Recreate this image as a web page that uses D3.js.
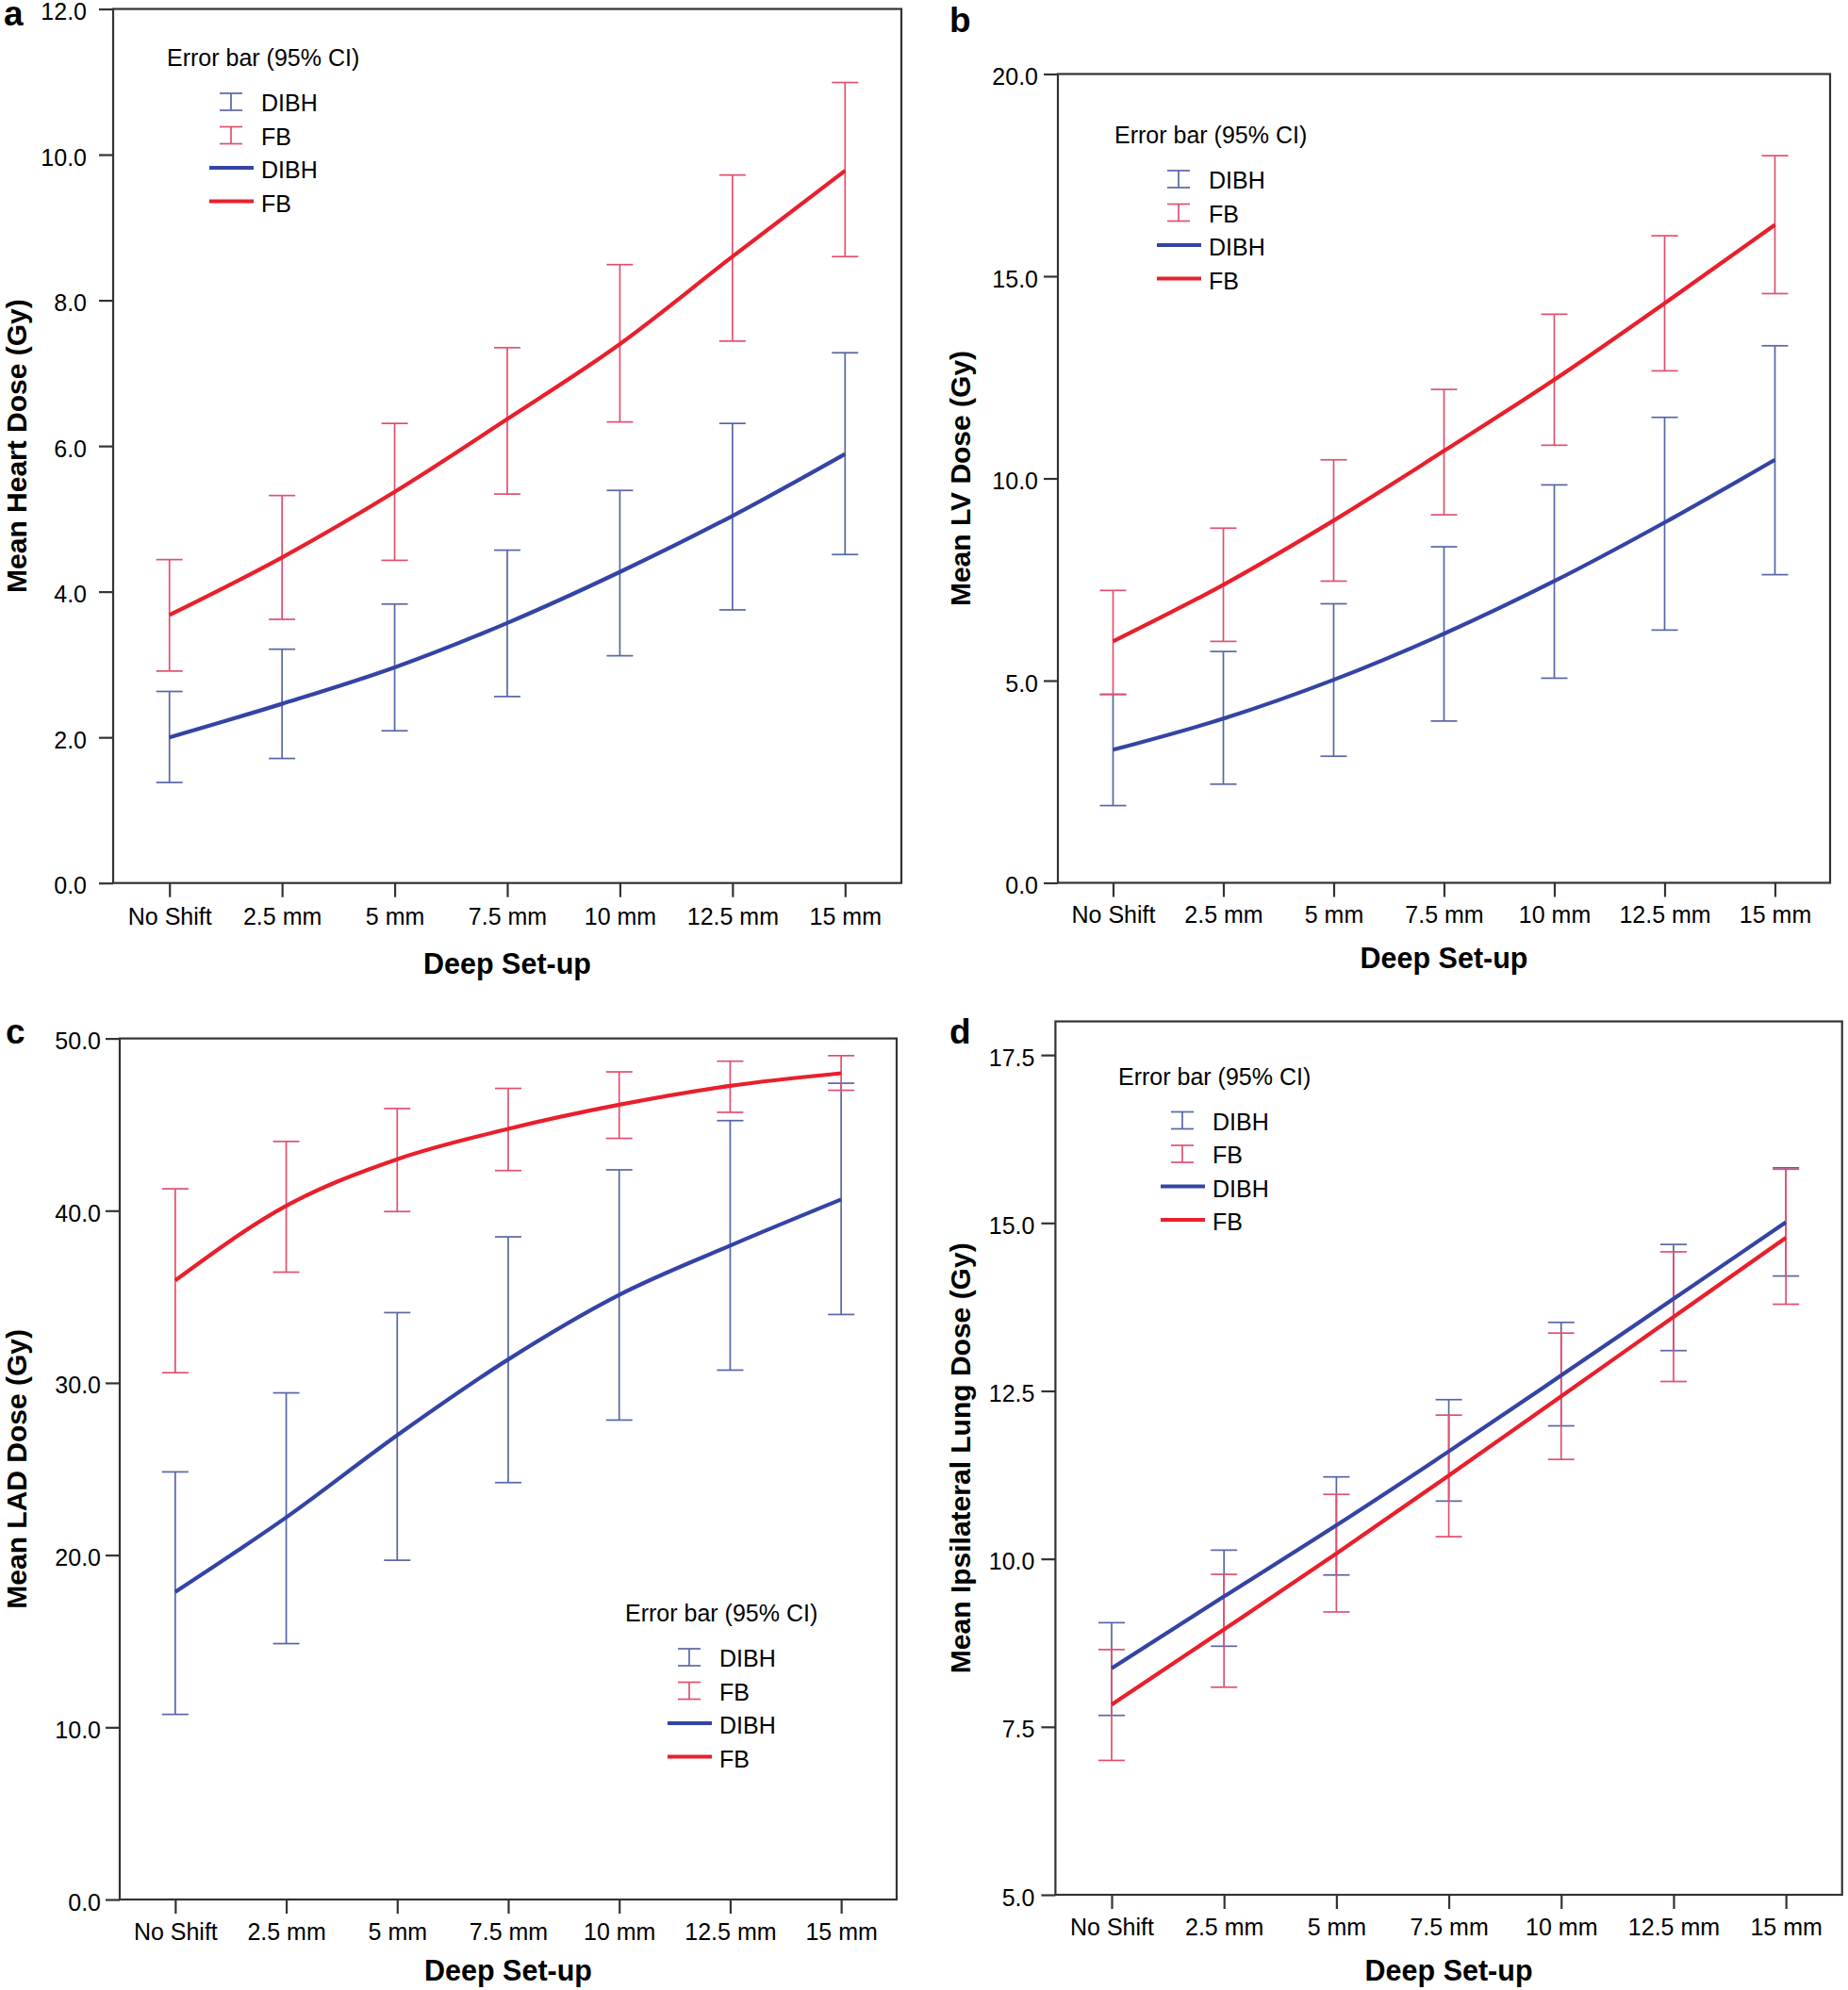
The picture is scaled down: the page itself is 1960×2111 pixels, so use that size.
<!DOCTYPE html>
<html>
<head>
<meta charset="utf-8">
<script src="https://cdn.jsdelivr.net/npm/d3@7"></script>
<style>
  html, body { margin: 0; padding: 0; background: #fff; }
  svg { display: block; }
  text { font-family: "Liberation Sans", Arial, Helvetica, sans-serif; fill: #000; }
</style>
</head>
<body>
<svg id="chart" width="1960" height="2111"></svg>
<script>
// ---------------- DATA ----------------
const categories = ["No Shift", "2.5 mm", "5 mm", "7.5 mm", "10 mm", "12.5 mm", "15 mm"];

// Panel a: Mean Heart Dose (Gy)
const heartDIBH   = [2.00, 2.46, 2.96, 3.57, 4.27, 5.04, 5.89];
const heartDIBHLo = [1.38, 1.71, 2.09, 2.56, 3.12, 3.75, 4.51];
const heartDIBHHi = [2.63, 3.21, 3.83, 4.57, 5.39, 6.31, 7.28];
const heartFB     = [3.68, 4.47, 5.37, 6.37, 7.40, 8.60, 9.78];
const heartFBLo   = [2.91, 3.62, 4.43, 5.34, 6.33, 7.44, 8.60];
const heartFBHi   = [4.44, 5.32, 6.31, 7.35, 8.49, 9.72, 10.99];
const heartTicks  = [0, 2, 4, 6, 8, 10, 12];

// Panel b: Mean LV Dose (Gy)
const lvDIBH   = [3.29, 4.06, 5.02, 6.16, 7.46, 8.91, 10.46];
const lvDIBHLo = [1.91, 2.44, 3.13, 4.00, 5.06, 6.25, 7.62];
const lvDIBHHi = [4.66, 5.72, 6.90, 8.31, 9.84, 11.51, 13.28];
const lvFB     = [5.97, 7.37, 8.96, 10.68, 12.44, 14.33, 16.27];
const lvFBLo   = [4.66, 5.97, 7.46, 9.10, 10.82, 12.66, 14.57];
const lvFBHi   = [7.23, 8.77, 10.46, 12.20, 14.06, 16.00, 17.98];
const lvTicks  = [0, 5, 10, 15, 20];

// Panel c: Mean LAD Dose (Gy)
const ladDIBH   = [17.86, 22.19, 26.96, 31.36, 35.11, 37.97, 40.65];
const ladDIBHLo = [10.75, 14.86, 19.70, 24.21, 27.84, 30.74, 33.97];
const ladDIBHHi = [24.83, 29.42, 34.08, 38.48, 42.37, 45.23, 47.40];
const ladFB     = [35.95, 40.28, 42.99, 44.75, 46.15, 47.25, 47.98];
const ladFBLo   = [30.59, 36.43, 39.95, 42.33, 44.20, 45.71, 46.99];
const ladFBHi   = [41.27, 44.02, 45.93, 47.10, 48.06, 48.68, 49.00];
const ladTicks  = [0, 10, 20, 30, 40, 50];

// Panel d: Mean Ipsilateral Lung Dose (Gy)
const lungDIBH   = [8.37, 9.44, 10.50, 11.60, 12.73, 13.87, 15.01];
const lungDIBHLo = [7.67, 8.70, 9.76, 10.86, 11.98, 13.10, 14.21];
const lungDIBHHi = [9.05, 10.13, 11.22, 12.37, 13.52, 14.68, 15.82];
const lungFB     = [7.83, 8.95, 10.08, 11.24, 12.42, 13.60, 14.78];
const lungFBLo   = [7.00, 8.09, 9.21, 10.33, 11.48, 12.64, 13.79];
const lungFBHi   = [8.65, 9.77, 10.96, 12.14, 13.36, 14.57, 15.80];
const lungTicks  = [5, 7.5, 10, 12.5, 15, 17.5];

const seriesNames = ["DIBH", "FB"];
const legendTitle = "Error bar (95% CI)";
const xTitle = "Deep Set-up";

// ---------------- STYLE ----------------
const lineColor = { DIBH: "#3444a4", FB: "#e8202c" };
const barColor  = { DIBH: "#5866a6", FB: "#e0506e" };
const frameColor = "#333";

// ---------------- PANELS ----------------
const panels = [
  { letter: "a", yTitle: "Mean Heart Dose (Gy)", domain: [0, 12], ticks: heartTicks,
    dibh: [heartDIBH, heartDIBHLo, heartDIBHHi], fb: [heartFB, heartFBLo, heartFBHi],
    box: { l: 120, t: 9.5, r: 956, b: 936.7 }, tickPad: 13, xPad: 12,
    letterPos: [4, 27], yTitleX: 28, xTitleY: 1033, legend: [177, 70] },
  { letter: "b", yTitle: "Mean LV Dose (Gy)", domain: [0, 20], ticks: lvTicks,
    dibh: [lvDIBH, lvDIBHLo, lvDIBHHi], fb: [lvFB, lvFBLo, lvFBHi],
    box: { l: 1122, t: 78.5, r: 1941, b: 936.5 }, tickPad: 6, xPad: 10,
    letterPos: [1007, 34], yTitleX: 1029, xTitleY: 1027, legend: [1182, 152] },
  { letter: "c", yTitle: "Mean LAD Dose (Gy)", domain: [0, 50], ticks: ladTicks,
    dibh: [ladDIBH, ladDIBHLo, ladDIBHHi], fb: [ladFB, ladFBLo, ladFBHi],
    box: { l: 127, t: 1101.6, r: 951, b: 2015 }, tickPad: 5, xPad: 10,
    letterPos: [6, 1107], yTitleX: 28, xTitleY: 2101, legend: [663, 1720] },
  { letter: "d", yTitle: "Mean Ipsilateral Lung Dose (Gy)", domain: [5, 18], ticks: lungTicks,
    dibh: [lungDIBH, lungDIBHLo, lungDIBHHi], fb: [lungFB, lungFBLo, lungFBHi],
    box: { l: 1119.4, t: 1083.5, r: 1953.75, b: 2010 }, tickPad: 7, xPad: 10,
    letterPos: [1007, 1107], yTitleX: 1029, xTitleY: 2101, legend: [1186, 1150.5] }
];

const svg = d3.select("#chart");
svg.append("rect").attr("width", 1960).attr("height", 2111).attr("fill", "#fff");

panels.forEach(p => {
  const g = svg.append("g");
  const { l, t, r, b } = p.box;
  const x = d3.scalePoint().domain(categories).range([l, r]).padding(0.5);
  const y = d3.scaleLinear().domain(p.domain).range([b, t]);

  // frame
  g.append("rect").attr("x", l).attr("y", t).attr("width", r - l).attr("height", b - t)
    .attr("fill", "none").attr("stroke", frameColor).attr("stroke-width", 2.2);

  // y axis
  const ya = g.append("g").attr("transform", `translate(${l},0)`)
    .call(d3.axisLeft(y).tickValues(p.ticks).tickSize(15).tickPadding(p.tickPad).tickFormat(d3.format(".1f")));
  ya.select(".domain").remove();
  ya.selectAll(".tick line").attr("stroke", frameColor).attr("stroke-width", 2.2);
  ya.selectAll(".tick text").attr("font-size", 25).attr("fill", "#000").attr("y", 3)
    .attr("font-family", '"Liberation Sans", Arial, sans-serif');

  // x axis
  const xa = g.append("g").attr("transform", `translate(0,${b})`)
    .call(d3.axisBottom(x).tickSize(15).tickPadding(p.xPad));
  xa.select(".domain").remove();
  xa.selectAll(".tick line").attr("stroke", frameColor).attr("stroke-width", 2.2);
  xa.selectAll(".tick text").attr("font-size", 25).attr("fill", "#000")
    .attr("font-family", '"Liberation Sans", Arial, sans-serif');

  // error bars
  const cap = 14;
  [["DIBH", p.dibh], ["FB", p.fb]].forEach(([name, arr]) => {
    const [mean, lo, hi] = arr;
    const eb = g.append("g").attr("stroke", barColor[name]).attr("stroke-width", 1.7).attr("fill", "none");
    categories.forEach((c, i) => {
      const cx = x(c);
      eb.append("line").attr("x1", cx).attr("x2", cx).attr("y1", y(lo[i])).attr("y2", y(hi[i]));
      eb.append("line").attr("x1", cx - cap).attr("x2", cx + cap).attr("y1", y(lo[i])).attr("y2", y(lo[i]));
      eb.append("line").attr("x1", cx - cap).attr("x2", cx + cap).attr("y1", y(hi[i])).attr("y2", y(hi[i]));
    });
  });

  // mean lines
  const line = d3.line().x((d, i) => x(categories[i])).y(d => y(d)).curve(d3.curveMonotoneX);
  [["DIBH", p.dibh[0]], ["FB", p.fb[0]]].forEach(([name, mean]) => {
    g.append("path").datum(mean).attr("d", line).attr("fill", "none")
      .attr("stroke", lineColor[name]).attr("stroke-width", 4.2).attr("stroke-linejoin", "round");
  });

  // panel letter
  g.append("text").attr("x", p.letterPos[0]).attr("y", p.letterPos[1])
    .attr("font-size", 37).attr("font-weight", "bold").text(p.letter);

  // axis titles
  g.append("text").attr("transform", `translate(${p.yTitleX},${(t + b) / 2}) rotate(-90)`)
    .attr("text-anchor", "middle").attr("font-size", 30).attr("font-weight", "bold").text(p.yTitle);
  g.append("text").attr("x", (l + r) / 2).attr("y", p.xTitleY)
    .attr("text-anchor", "middle").attr("font-size", 30.5).attr("font-weight", "bold").text(xTitle);

  // legend
  const [lx, ly] = p.legend;
  const lg = g.append("g");
  lg.append("text").attr("x", lx).attr("y", ly).attr("font-size", 25).text(legendTitle);
  const rows = [
    { type: "bar", name: "DIBH" }, { type: "bar", name: "FB" },
    { type: "line", name: "DIBH" }, { type: "line", name: "FB" }
  ];
  rows.forEach((row, i) => {
    const by = ly + 48 + i * 35.5;
    if (row.type === "bar") {
      const cx = lx + 68, y0 = by - 19, y1 = by - 1, hw = 12;
      const bg = lg.append("g").attr("stroke", barColor[row.name]).attr("stroke-width", 1.7);
      bg.append("line").attr("x1", cx).attr("x2", cx).attr("y1", y0).attr("y2", y1);
      bg.append("line").attr("x1", cx - hw).attr("x2", cx + hw).attr("y1", y0).attr("y2", y0);
      bg.append("line").attr("x1", cx - hw).attr("x2", cx + hw).attr("y1", y1).attr("y2", y1);
    } else {
      lg.append("line").attr("x1", lx + 45).attr("x2", lx + 92).attr("y1", by - 11).attr("y2", by - 11)
        .attr("stroke", lineColor[row.name]).attr("stroke-width", 4.2);
    }
    lg.append("text").attr("x", lx + 100).attr("y", by).attr("font-size", 25).text(row.name);
  });
});
</script>
</body>
</html>
